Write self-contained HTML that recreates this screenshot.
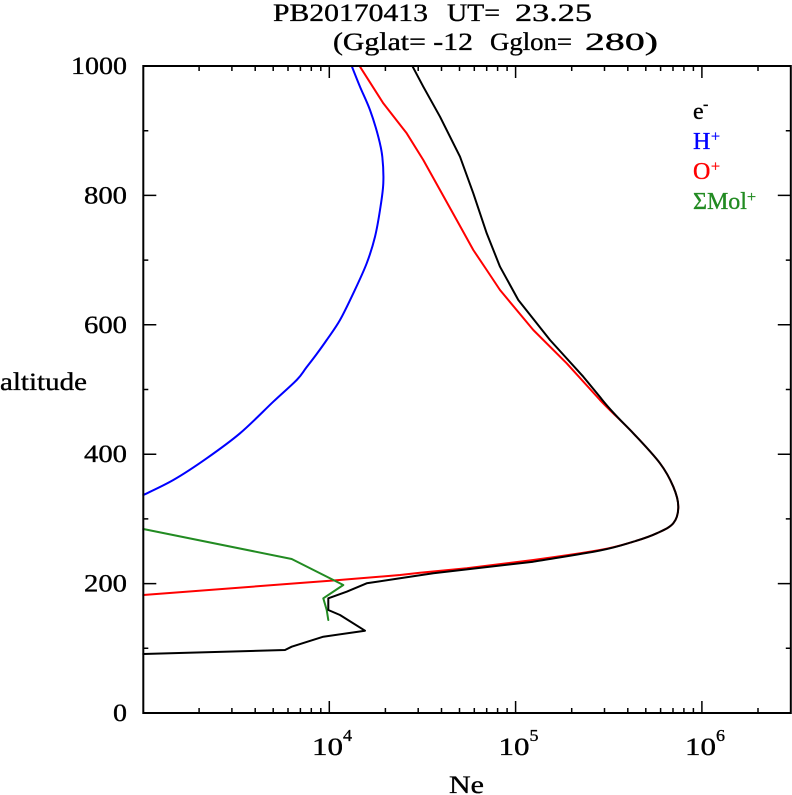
<!DOCTYPE html>
<html><head><meta charset="utf-8"><style>
html,body{margin:0;padding:0;background:#fff;}
svg{display:block;}
text{font-family:"Liberation Serif",serif;fill:#000;stroke:#000;stroke-width:0.35;}
</style></head><body>
<svg width="792" height="795" viewBox="0 0 792 795" xmlns="http://www.w3.org/2000/svg">
<rect width="792" height="795" fill="#fff"/>
<!-- title -->
<text x="273" y="21" font-size="25" textLength="155" lengthAdjust="spacingAndGlyphs">PB20170413</text>
<text x="447" y="21" font-size="25" textLength="53" lengthAdjust="spacingAndGlyphs">UT=</text>
<text x="515" y="21" font-size="25" textLength="77" lengthAdjust="spacingAndGlyphs">23.25</text>
<text x="333" y="50" font-size="25" textLength="140" lengthAdjust="spacingAndGlyphs" style="white-space:pre">(Gglat= -12</text>
<text x="490" y="50" font-size="25" textLength="82" lengthAdjust="spacingAndGlyphs">Gglon=</text>
<text x="585" y="50" font-size="25" textLength="73" lengthAdjust="spacingAndGlyphs">280)</text>

<!-- curves -->
<g fill="none" stroke-width="2" stroke-linejoin="round" stroke-linecap="round">
<path stroke="#ff0000" d="M360,66.7 L383.3,103.3 L406.7,133.3 L423.3,160 L440,190 L456.7,220 L473.3,250 L486.7,270 L500,290 L508.3,300 L533.3,330 L566.7,363.3 L600,400
C611.1,411.7 623.3,422.75 633.3,433.3
C643.3,443.85 653.3,454.4 660,463.3
C666.7,472.2 670.25,479.5 673.3,486.7
C676.35,493.9 678.3,500.6 678.3,506.7
C678.3,512.8 676.9,518.9 673.3,523.3
C669.7,527.7 663.4,530.2 656.7,533.3
C650,536.4 642.75,538.9 633.3,541.7
C623.85,544.5 616.7,546.95 600,550
C583.3,553.05 555.5,556.95 533.3,560
L466.7,568.3 L420,572.7 L400,575 L333.3,580.5 L300,583 L143.3,595"/>
<polyline stroke="#228b22" points="143.3,529 291.7,559 343.3,585 323.3,598.3 326.7,610 328.3,620"/>
<path stroke="#0000ff" d="M352,66.7
C353.3,70 357,79.5 360,86.7
C363,93.9 366.95,101.7 370,110
C373.05,118.3 376.25,128.9 378.3,136.7
C380.35,144.5 381.47,148.9 382.3,156.7
C383.13,164.5 383.68,174.4 383.3,183.3
C382.92,192.2 381.38,201.1 380,210
C378.62,218.9 377.2,227.8 375,236.7
C372.8,245.6 370.3,253.9 366.7,263.3
C363.1,272.7 357.75,283.85 353.3,293.3
C348.85,302.75 344.4,312.2 340,320
C335.6,327.8 330.6,334.3 326.7,340
C322.8,345.7 320.15,349.3 316.7,354
C313.25,358.7 309.3,363.7 306,368
C302.7,372.3 302.15,374.4 296.7,380
C291.25,385.6 282.75,392.8 273.3,401.7
C263.85,410.6 251.1,423.9 240,433.3
C228.9,442.7 217.8,450.5 206.7,458.3
C195.6,466.1 183.9,473.9 173.3,480
C162.7,486.1 148.3,492.5 143.3,495"/>
<path stroke="#000000" d="M412.7,66.7 L423.3,86.7 L440,116.7 L460,156.7 L473.3,193.3 L486.7,233.3 L500,266.7 L518.3,300 L550,340 L583.3,376.7 L600,397
C611.1,411.7 623.3,422.75 633.3,433.3
C643.3,443.85 653.3,454.4 660,463.3
C666.7,472.2 670.25,479.5 673.3,486.7
C676.35,493.9 678.3,500.6 678.3,506.7
C678.3,512.8 676.9,518.9 673.3,523.3
C669.7,527.7 663.4,530.2 656.7,533.3
C650,536.4 642.75,538.9 633.3,541.7
C623.85,544.5 616.7,547.2 600,550.5
C583.3,553.8 555.5,558 533.3,561.7
L433.3,573.3 L405,577.5 L366.7,583.3 L346.7,591.7 L328.3,598.3 L328.3,610 L340,615 L365,630.7 L323.3,636.7 L291.7,646.7 L285,650 L143.3,654"/>
</g>

<!-- frame -->
<rect x="143.3" y="66" width="647.5" height="647" fill="none" stroke="#000" stroke-width="2"/>
<!-- ticks -->
<path fill="none" stroke="#000" stroke-width="1.5" d="
M199.1 713v-5M231.9 713v-5M255.2 713v-5M273.2 713v-5M288 713v-5M300.4 713v-5M311.3 713v-5M320.8 713v-5
M329.3 713v-12
M385.4 713v-5M418.2 713v-5M441.5 713v-5M459.5 713v-5M474.3 713v-5M486.7 713v-5M497.6 713v-5M507.1 713v-5
M515.6 713v-12
M571.7 713v-5M604.5 713v-5M627.8 713v-5M645.8 713v-5M660.6 713v-5M673 713v-5M683.9 713v-5M693.4 713v-5
M701.9 713v-12
M758 713v-5
M199.1 66v5M231.9 66v5M255.2 66v5M273.2 66v5M288 66v5M300.4 66v5M311.3 66v5M320.8 66v5
M329.3 66v12
M385.4 66v5M418.2 66v5M441.5 66v5M459.5 66v5M474.3 66v5M486.7 66v5M497.6 66v5M507.1 66v5
M515.6 66v12
M571.7 66v5M604.5 66v5M627.8 66v5M645.8 66v5M660.6 66v5M673 66v5M683.9 66v5M693.4 66v5
M701.9 66v12
M758 66v5
M143.3 648.3h5M143.3 583.6h13M143.3 518.9h5M143.3 454.2h13M143.3 389.5h5M143.3 324.8h13M143.3 260.1h5M143.3 195.4h13M143.3 130.7h5
M790.8 648.3h-5M790.8 583.6h-13M790.8 518.9h-5M790.8 454.2h-13M790.8 389.5h-5M790.8 324.8h-13M790.8 260.1h-5M790.8 195.4h-13M790.8 130.7h-5
"/>

<!-- y labels -->
<text x="127" y="74" font-size="25" text-anchor="end" textLength="56" lengthAdjust="spacingAndGlyphs">1000</text>
<text x="127" y="203.4" font-size="25" text-anchor="end" textLength="43" lengthAdjust="spacingAndGlyphs">800</text>
<text x="127" y="332.8" font-size="25" text-anchor="end" textLength="43" lengthAdjust="spacingAndGlyphs">600</text>
<text x="127" y="462.2" font-size="25" text-anchor="end" textLength="43" lengthAdjust="spacingAndGlyphs">400</text>
<text x="127" y="591.6" font-size="25" text-anchor="end" textLength="43" lengthAdjust="spacingAndGlyphs">200</text>
<text x="127" y="721" font-size="25" text-anchor="end" textLength="14" lengthAdjust="spacingAndGlyphs">0</text>
<text x="0" y="390" font-size="25" textLength="87" lengthAdjust="spacingAndGlyphs">altitude</text>

<!-- x labels -->
<text x="312" y="755" font-size="25" textLength="31" lengthAdjust="spacingAndGlyphs">10</text>
<text x="343" y="741" font-size="17" textLength="9" lengthAdjust="spacingAndGlyphs">4</text>
<text x="498.5" y="755" font-size="25" textLength="31" lengthAdjust="spacingAndGlyphs">10</text>
<text x="529.5" y="741" font-size="17" textLength="9" lengthAdjust="spacingAndGlyphs">5</text>
<text x="685" y="755" font-size="25" textLength="31" lengthAdjust="spacingAndGlyphs">10</text>
<text x="716" y="741" font-size="17" textLength="9" lengthAdjust="spacingAndGlyphs">6</text>
<text x="449" y="793" font-size="25" textLength="35" lengthAdjust="spacingAndGlyphs">Ne</text>

<!-- legend -->
<text x="693" y="119" font-size="24">e</text>
<text x="703" y="109" font-size="16">-</text>
<text x="693" y="149" font-size="24" style="fill:#0000ff;stroke:#0000ff">H</text>
<text x="711" y="141.5" font-size="16" style="fill:#0000ff;stroke:#0000ff">+</text>
<text x="693" y="179" font-size="24" style="fill:#ff0000;stroke:#ff0000">O</text>
<text x="711" y="171.5" font-size="16" style="fill:#ff0000;stroke:#ff0000">+</text>
<text x="693" y="209" font-size="24" style="fill:#228b22;stroke:#228b22">ΣMol</text>
<text x="747" y="202" font-size="16" style="fill:#228b22;stroke:#228b22">+</text>
</svg>
</body></html>
